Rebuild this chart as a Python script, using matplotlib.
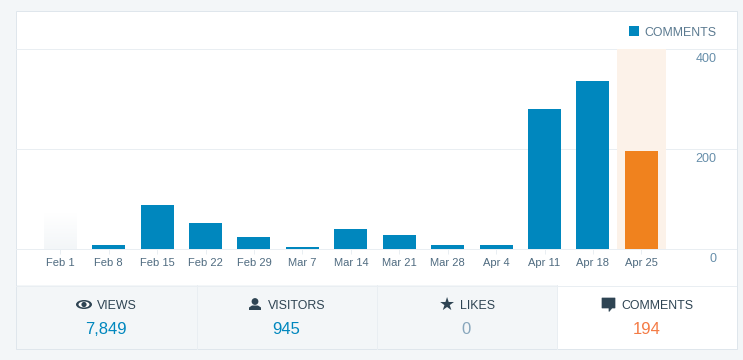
import numpy as np
import matplotlib
matplotlib.use('Agg')
import matplotlib.pyplot as plt
from matplotlib.colors import LinearSegmentedColormap
from matplotlib.patches import Rectangle, Ellipse, Circle, Polygon

#### DATA

weeks = ['Feb 1', 'Feb 8', 'Feb 15', 'Feb 22', 'Feb 29', 'Mar 7', 'Mar 14',
	'Mar 21', 'Mar 28', 'Apr 4', 'Apr 11', 'Apr 18', 'Apr 25']
comments = [0, 9, 89, 53, 25, 5, 41, 29, 9, 9, 281, 337, 197]
placeholder = [72, 0, 0, 0, 0, 0, 0, 0, 0, 0, 0, 0, 0]
yticks = [0, 200, 400]

tab_names = ['VIEWS', 'VISITORS', 'LIKES', 'COMMENTS']
tab_values = ['7,849', '945', '0', '194']

#### STYLE

W, H = 743, 360
blue = '#0087be'
orange = '#f0821e'
bg = '#f3f6f8'
border = '#dfe6ec'
grid = '#e9eef2'
dark = '#2e4453'
tick_col = '#4f6b80'
right_col = '#668eaa'

plt.rcParams['font.family'] = ['Liberation Sans', 'DejaVu Sans']

fig = plt.figure(figsize=(W/100, H/100), dpi=100, facecolor=bg)

# Card drawn in pixel coordinates

bk = fig.add_axes([0, 0, 1, 1], zorder=0)
bk.set_xlim(0, W)
bk.set_ylim(H, 0)
bk.axis('off')

bk.add_patch(Rectangle((15.5, 10.5), 721, 338.5, fc='white', ec='none'))
bk.add_patch(Rectangle((16, 285), 540.5, 63.5, fc=bg, ec='none'))
bk.plot([16, 736], [285.5, 285.5], color=grid, lw=0.72)
bk.plot([196.5, 196.5], [285, 348.5], color=grid, lw=0.72)
bk.plot([376.5, 376.5], [285, 348.5], color=grid, lw=0.72)
bk.plot([556.5, 556.5], [285, 348.5], color=grid, lw=0.72)
bk.add_patch(Rectangle((15.5, 10.5), 721, 338.5, fc='none', ec=border, lw=0.72))

# Chart

x0, x1 = 16, 736
y_top, y_bot = 49, 249
px0, step = 60.3, 48.42

ax = fig.add_axes([x0/W, 1-y_bot/H, (x1-x0)/W, (y_bot-y_top)/H], zorder=1)
ax.patch.set_alpha(0)
for s in ax.spines.values():
	s.set_visible(False)

xs = np.arange(len(weeks))
bar_w = 33/step

# fading placeholder bar
grad = np.linspace(0, 1, 64).reshape(-1, 1)
fade = LinearSegmentedColormap.from_list('fade', ['white', bg])
ax.imshow(grad, extent=(xs[0]-bar_w/2, xs[0]+bar_w/2, 0, placeholder[0]),
	origin='upper', aspect='auto', cmap=fade, zorder=2)

ax.set_xlim((x0-px0)/step, (x1-px0)/step)
ax.set_ylim(0, 400)

ax.set_yticks(yticks)
ax.set_yticklabels([])
ax.yaxis.grid(True, color=grid, lw=0.72, clip_on=False)
ax.tick_params(axis='y', length=0)
ax.set_axisbelow(True)

ax.set_xticks(xs)
ax.set_xticklabels(weeks, fontsize=8, color=tick_col)
ax.tick_params(axis='x', length=3.5, width=0.72, color=grid, pad=3)

# highlighted week
ax.bar(xs[-1], yticks[-1], width=49/step, color='#fcf2e9', zorder=1)

cols = [blue]*(len(weeks)-1) + [orange]
ax.bar(xs, comments, width=bar_w, color=cols, zorder=3)

for v in yticks:
	bk.text(716.5, 249.5-v/2+9.5, str(v), ha='right', va='center', fontsize=9, color=right_col)

# Legend

bk.add_patch(Rectangle((629, 26), 10, 10, fc=blue, ec='none'))
bk.text(644, 32.5, 'COMMENTS', ha='left', va='center', fontsize=8.9, color='#5b7a90')

# Tabs

centers = [106, 286.5, 466.5, 646.5]
label_x = [97, 268, 460, 621]
value_cols = [blue, blue, '#87a6bc', '#f47b45']
for ii in range(4):
	bk.text(label_x[ii], 306, tab_names[ii], ha='left', va='center', fontsize=8.9, color=dark)
	bk.text(centers[ii], 329, tab_values[ii], ha='center', va='center', fontsize=12, color=value_cols[ii])

# eye
bk.add_patch(Ellipse((84, 304.5), 16, 9, fc=dark, ec='none'))
bk.add_patch(Ellipse((84, 304.5), 11, 6, fc='white', ec='none'))
bk.add_patch(Circle((84, 304.5), 2.6, fc=dark, ec='none'))
# person
bk.add_patch(Circle((255, 301.5), 3.4, fc=dark, ec='none'))
bk.add_patch(Polygon([(249, 310), (249, 307.5), (252, 305.5), (258, 305.5), (261, 307.5), (261, 310)], fc=dark, ec='none'))
# star
bk.text(447, 305, '\u2605', ha='center', va='center', fontsize=13, color=dark, family='DejaVu Sans')
# speech bubble
bk.add_patch(Polygon([(602, 298), (615, 298), (615, 308), (612, 308), (609, 311.5), (609, 308), (602, 308)], fc=dark, ec=dark, lw=0.5))

plt.savefig('out.png', dpi=100, facecolor=bg)
